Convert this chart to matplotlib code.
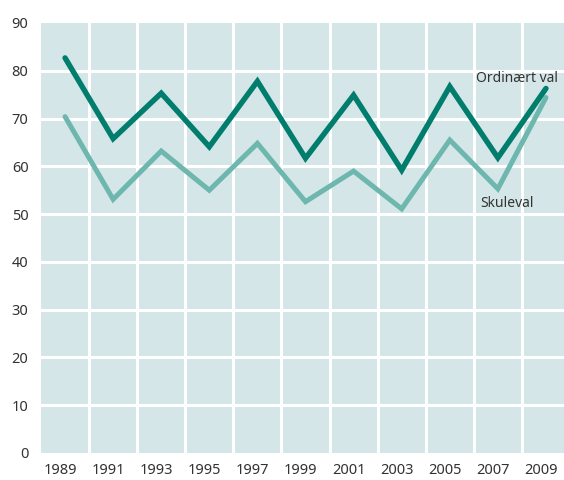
import numpy as np
import matplotlib
matplotlib.use('Agg')
import matplotlib.pyplot as plt

# data
years = [1989, 1991, 1993, 1995, 1997, 1999, 2001, 2003, 2005, 2007, 2009]
ordinaert = [82.7, 65.8, 75.3, 64.1, 77.8, 61.7, 74.9, 59.2, 76.7, 61.8, 76.3]
skuleval = [70.4, 53.1, 63.2, 55.0, 64.8, 52.6, 59.0, 51.1, 65.5, 55.3, 74.4]
yticks = [0, 10, 20, 30, 40, 50, 60, 70, 80, 90]

plt.rcParams['font.family'] = ['Noto Sans', 'DejaVu Sans']

fig = plt.figure(figsize=(5.64, 4.8), dpi=100)
ax = fig.add_axes([41/564, 1 - 453/480, 1 - 41/564, 430/480])
ax.set_facecolor('#d4e6e8')

# white grid: horizontal at every 10, vertical between the odd years
for v in yticks[1:-1]:
    ax.axhline(v, color='white', lw=2.2, zorder=1)
for x in range(1990, 2010, 2):
    ax.axvline(x, color='white', lw=2.2, zorder=1)

ax.plot(years, skuleval, color='#6db7af', lw=3.6, zorder=3, solid_capstyle='round', solid_joinstyle='miter')
ax.plot(years, ordinaert, color='#007d6c', lw=3.9, zorder=4, solid_capstyle='round', solid_joinstyle='miter')

ax.text(2006.1, 78.3, 'Ordinært val', fontsize=10, color='#333333', va='center', ha='left')
ax.text(2006.25, 52.3, 'Skuleval', fontsize=10, color='#333333', va='center', ha='left')

ax.set_xlim(1988, 2009.75)
ax.set_ylim(0, 90)
ax.set_yticks(yticks)
ax.set_xticks(np.array(years) - 0.2)
ax.set_xticklabels([str(y) for y in years])
ax.tick_params(length=0, labelsize=10.5, colors='#333333')
ax.tick_params(axis='y', pad=9)
ax.tick_params(axis='x', pad=7)
for s in ax.spines.values():
    s.set_visible(False)

fig.savefig('out.png', dpi=100)
